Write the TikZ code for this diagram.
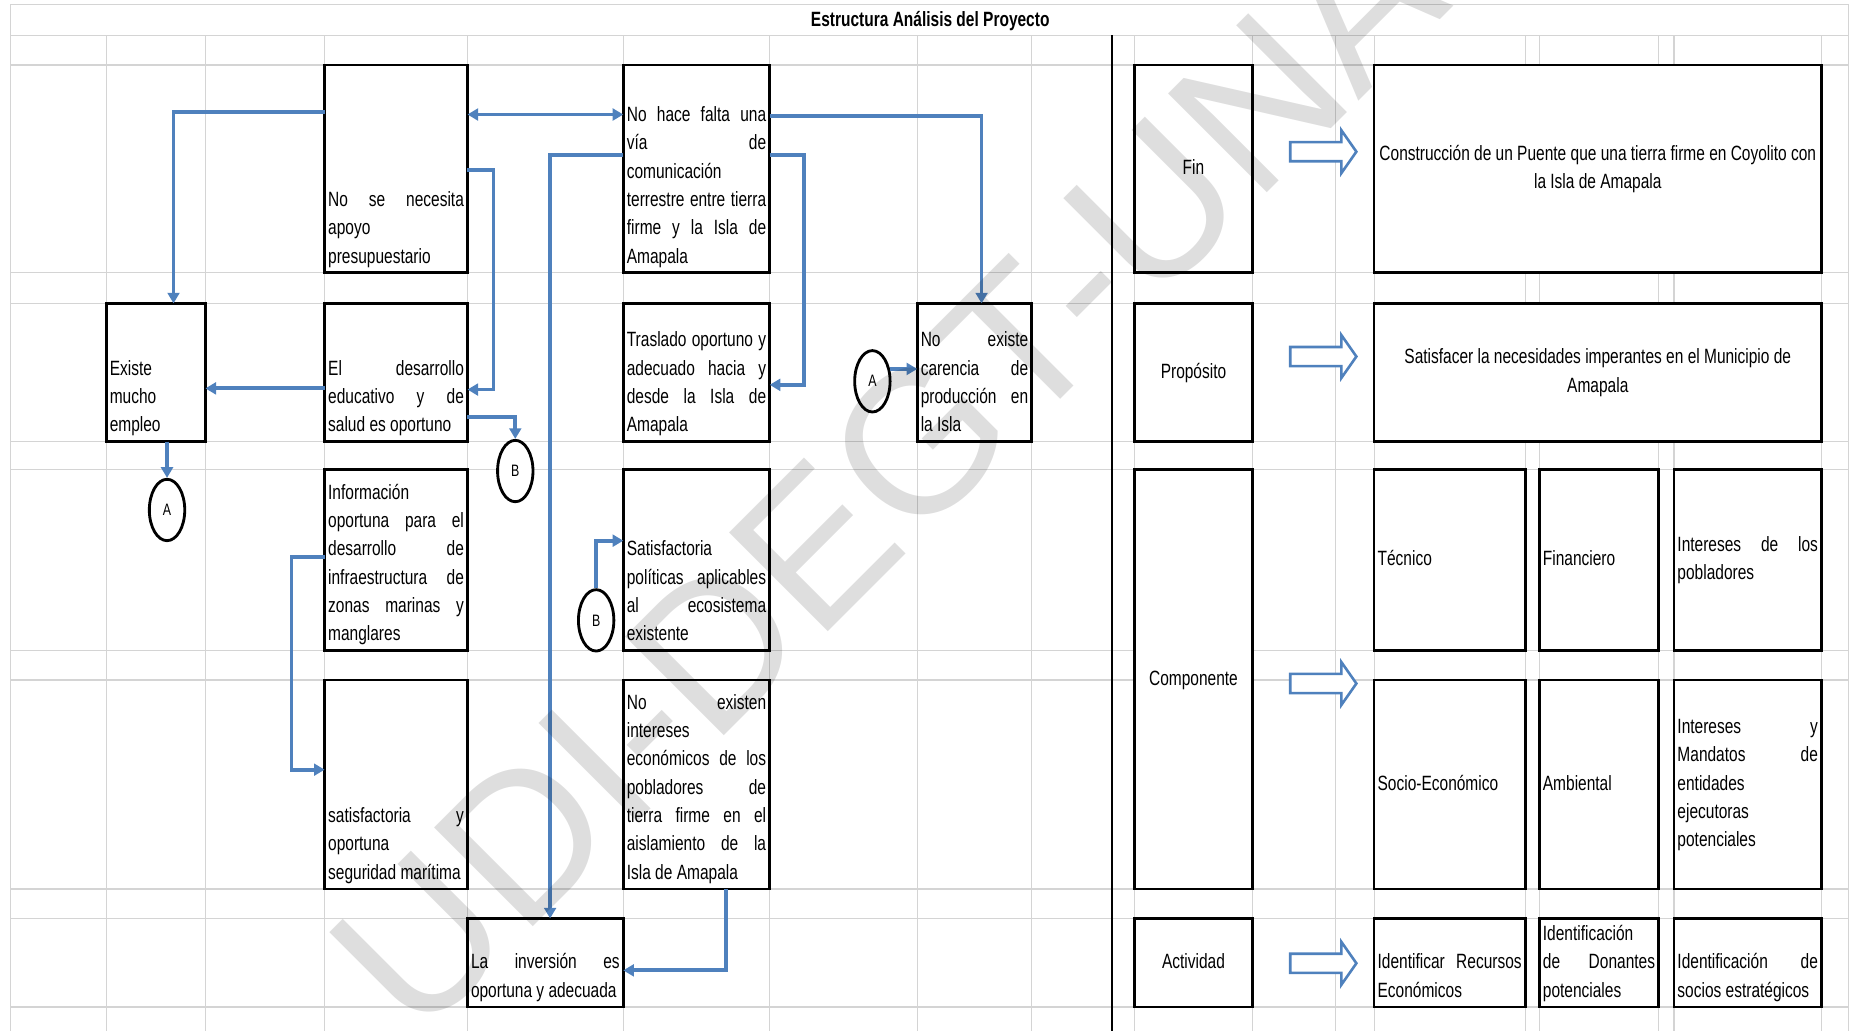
\documentclass[tikz,border=0pt]{standalone}
\usepackage{fontspec}
\setmainfont{Liberation Sans}[FakeStretch=0.75]
\newfontfamily\markfont{Liberation Sans}
\usepackage{xcolor}
\usetikzlibrary{arrows.meta}
\usetikzlibrary{shapes.geometric}
\usetikzlibrary{shapes.arrows}

\definecolor{linkblue}{RGB}{79,129,189}
\definecolor{gridgray}{RGB}{212,212,212}

\newcommand\cellfont{\fontsize{17.5}{24}\selectfont}
\newcommand\jrow[1]{\hbox to\hsize{\strut\spaceskip=\fontdimen2\font plus 1fill\relax#1}}
\newcommand\lrow[1]{\hbox to\hsize{\strut#1\hfil}}
\newcommand\crow[1]{\hbox to\hsize{\hfil\strut#1\hfil}}
\newcommand\bcell[3]{\vbox to #2pt{\hsize=\dimexpr#1pt-6pt\relax\vfill#3\vskip1pt}}
\newcommand\mcell[3]{\vbox to #2pt{\hsize=\dimexpr#1pt-6pt\relax\vfill#3\vfill}}

\begin{document}
\begin{tikzpicture}[x=1pt,y=-1pt,
    cell/.style={draw,line width=2.3pt,fill=white,inner xsep=3pt,inner ysep=0pt,outer sep=0pt,anchor=north west,font=\cellfont},
    ring/.style={draw,ellipse,line width=2.4pt,fill=white,minimum width=30pt,minimum height=52pt,inner sep=0pt,font=\fontsize{14}{16}\selectfont},
    link/.style={draw=linkblue,line width=3.2pt,>={Triangle[length=9pt,width=10pt]},->},
    bigarrow/.style={single arrow,draw=linkblue,fill=white,line width=2.2pt,minimum height=56pt,minimum width=34pt,single arrow head extend=10pt,single arrow tip angle=110,inner xsep=0pt,inner ysep=7pt,outer sep=0pt,anchor=tip},
    gridline/.style={draw=gridgray,line width=1pt},
    heading/.style={font=\bfseries\cellfont,inner sep=0pt},
    sello/.style={rotate=45,inner sep=0pt,text=black,text opacity=0.13,font=\markfont\fontsize{172}{172}\selectfont}]
  \useasboundingbox (0,0) rectangle (1568,873);
  \clip (0,0) rectangle (1568,873);
  \foreach \y in {30,55,231,257,374,398,551,576,753,778,853}
    \draw[gridline] (9,\y) -- (1566,\y);
  \foreach \x in {90,174,275,396,528,652,777,874,961,1061,1131,1164,1292,1304,1405,1418,1543}
    \draw[gridline] (\x,30) -- (\x,873);
  \draw[gridline] (9,873) -- (9,4) -- (1566,4) -- (1566,873);
  \draw[line width=1.6pt] (942,30) -- (942,873);

  \node[heading] (titulo) at (788,18) {Estructura Análisis del Proyecto};

  \node[cell] (presup) at (275,55) {\bcell{121}{176}{\jrow{No se necesita}\lrow{apoyo}\lrow{presupuestario}}};
  \node[cell] (via) at (528,55) {\bcell{124}{176}{\jrow{No hace falta una}\jrow{vía de}\lrow{comunicación}\jrow{terrestre entre tierra}\jrow{firme y la Isla de}\lrow{Amapala}}};
  \node[cell] (empleo) at (90,257) {\bcell{84}{117}{\lrow{Existe}\lrow{mucho}\lrow{empleo}}};
  \node[cell] (educa) at (275,257) {\bcell{121}{117}{\jrow{El desarrollo}\jrow{educativo y de}\lrow{salud es oportuno}}};
  \node[cell] (traslado) at (528,257) {\bcell{124}{117}{\jrow{Traslado oportuno y}\jrow{adecuado hacia y}\jrow{desde la Isla de}\lrow{Amapala}}};
  \node[cell] (carencia) at (777,257) {\bcell{97}{117}{\jrow{No existe}\jrow{carencia de}\jrow{producción en}\lrow{la Isla}}};
  \node[cell] (info) at (275,398) {\bcell{121}{153}{\lrow{Información}\jrow{oportuna para el}\jrow{desarrollo de}\jrow{infraestructura de}\jrow{zonas marinas y}\lrow{manglares}}};
  \node[cell] (politicas) at (528,398) {\bcell{124}{153}{\lrow{Satisfactoria}\jrow{políticas aplicables}\jrow{al ecosistema}\lrow{existente}}};
  \node[cell] (seguridad) at (275,576) {\bcell{121}{177}{\jrow{satisfactoria y}\lrow{oportuna}\lrow{seguridad marítima}}};
  \node[cell] (intereses) at (528,576) {\bcell{124}{177}{\jrow{No existen}\lrow{intereses}\jrow{económicos de los}\jrow{pobladores de}\jrow{tierra firme en el}\jrow{aislamiento de la}\lrow{Isla de Amapala}}};
  \node[cell] (inversion) at (396,778) {\bcell{132}{75}{\jrow{La inversión es}\lrow{oportuna y adecuada}}};

  \node[ring] (ringA1) at (141.5,432) {A};
  \node[ring] (ringB1) at (436.5,399) {B};
  \node[ring] (ringA2) at (739,323) {A};
  \node[ring] (ringB2) at (505,525.5) {B};

  \draw[link] ([yshift=-40pt]presup.north west) -| ([xshift=15pt]empleo.north);
  \draw[link,<->] ([yshift=-42pt]presup.north east) -- ([yshift=-42pt]via.north west);
  \draw[link] ([yshift=-43pt]via.north east) -| ([xshift=6pt]carencia.north);
  \draw[link] ([yshift=-89pt]presup.north east) -- ++(22,0) |- ([yshift=-73pt]educa.north east);
  \draw[link] ([yshift=-76pt]via.north west) -| ([xshift=4pt]inversion.north);
  \draw[link] ([yshift=-76pt]via.north east) -- ++(29,0) |- ([yshift=-69pt]traslado.north east);
  \draw[link] ([yshift=-72pt]educa.north west) -- ([yshift=-72pt]empleo.north east);
  \draw[link] ([yshift=-96pt]educa.north east) -| (ringB1.north);
  \draw[link] (empleo.south -| ringA1.north) -- (ringA1.north);
  \draw[link] (ringA2.35) -- (ringA2.35 -| carencia.west);
  \draw[link] (ringB2.north) |- ([yshift=-60pt]politicas.north west);
  \draw[link] ([yshift=-74pt]info.north west) -- ++(-28,0) |- ([yshift=-76pt]seguridad.north west);
  \draw[link] ([xshift=25pt]intereses.south) |- ([yshift=-44pt]inversion.north east);

  \node[cell] (fin) at (961,55) {\mcell{100}{176}{\crow{Fin}}};
  \node[cell] (proposito) at (961,257) {\mcell{100}{117}{\crow{Propósito}}};
  \node[cell] (componente) at (961,398) {\mcell{100}{355}{\crow{Componente}}};
  \node[cell] (actividad) at (961,778) {\mcell{100}{75}{\crow{Actividad}}};
  \node[cell] (finmeta) at (1164,55) {\mcell{379}{176}{\crow{Construcción de un Puente que una tierra firme en Coyolito con}\crow{la Isla de Amapala}}};
  \node[cell] (propmeta) at (1164,257) {\mcell{379}{117}{\crow{Satisfacer la necesidades imperantes en el Municipio de}\crow{Amapala}}};
  \node[cell] (tecnico) at (1164,398) {\mcell{128}{153}{\lrow{Técnico}}};
  \node[cell] (financiero) at (1304,398) {\mcell{101}{153}{\lrow{Financiero}}};
  \node[cell] (pobladores) at (1418,398) {\mcell{125}{153}{\jrow{Intereses de los}\lrow{pobladores}}};
  \node[cell] (socio) at (1164,576) {\mcell{128}{177}{\lrow{Socio-Económico}}};
  \node[cell] (ambiental) at (1304,576) {\mcell{101}{177}{\lrow{Ambiental}}};
  \node[cell] (mandatos) at (1418,576) {\mcell{125}{177}{\jrow{Intereses y}\jrow{Mandatos de}\lrow{entidades}\lrow{ejecutoras}\lrow{potenciales}}};
  \node[cell] (recursos) at (1164,778) {\bcell{128}{75}{\jrow{Identificar Recursos}\lrow{Económicos}}};
  \node[cell] (donantes) at (1304,778) {\bcell{101}{75}{\lrow{Identificación}\jrow{de Donantes}\lrow{potenciales}}};
  \node[cell] (socios) at (1418,778) {\bcell{125}{75}{\jrow{Identificación de}\lrow{socios estratégicos}}};

  \node[bigarrow] (finflecha) at (1149,128.5) {};
  \node[bigarrow] (propflecha) at (1149,302) {};
  \node[bigarrow] (compflecha) at (1149,579) {};
  \node[bigarrow] (actflecha) at (1149,816) {};

  \node[sello] (marca) at (795,358) {UDI-DEGT-UNAH};
\end{tikzpicture}
\end{document}
